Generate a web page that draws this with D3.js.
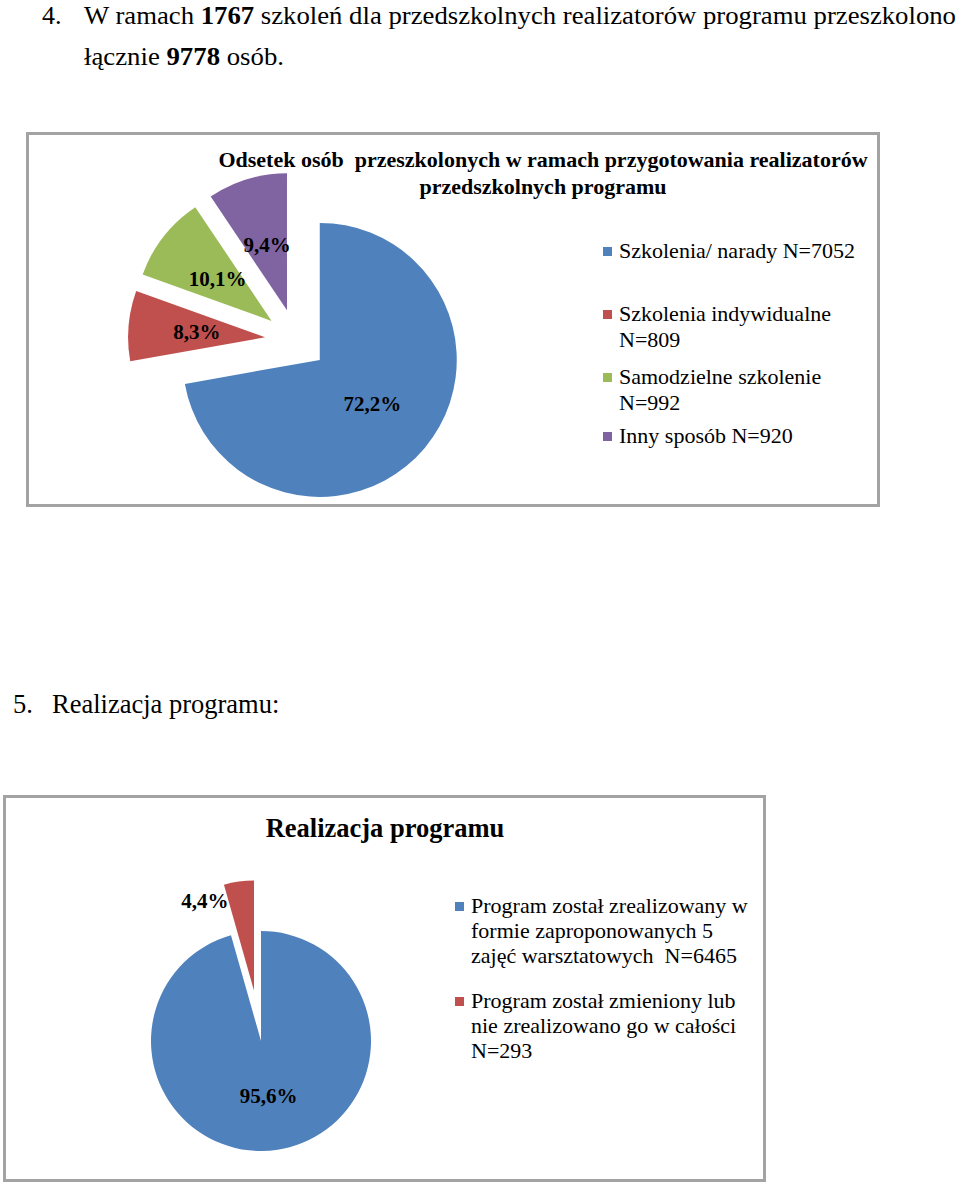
<!DOCTYPE html>
<html><head><meta charset="utf-8">
<script src="https://cdn.jsdelivr.net/npm/d3@7"></script>
<style>
body{margin:0;background:#fff}
svg{display:block}
text{font-family:"Liberation Serif","Times New Roman",serif;white-space:pre;fill:#000}
</style>
</head><body>
<svg id="c" width="960" height="1183"></svg>
<script>
// ---------- data ----------
const chart1Title = ["Odsetek osób  przeszkolonych w ramach przygotowania realizatorów", "przedszkolnych programu"];
const chart1Categories = ["Szkolenia/ narady N=7052", "Szkolenia indywidualne N=809", "Samodzielne szkolenie N=992", "Inny sposób N=920"];
const chart1LegendLines = [["Szkolenia/ narady N=7052"], ["Szkolenia indywidualne", "N=809"], ["Samodzielne szkolenie", "N=992"], ["Inny sposób N=920"]];
const chart1Values = [72.2, 8.3, 10.1, 9.4];

const chart2Title = "Realizacja programu";
const chart2Categories = ["Program został zrealizowany w formie zaproponowanych 5 zajęć warsztatowych N=6465", "Program został zmieniony lub nie zrealizowano go w całości N=293"];
const chart2LegendLines = [["Program został zrealizowany w", "formie zaproponowanych 5", "zajęć warsztatowych  N=6465"], ["Program został zmieniony lub", "nie zrealizowano go w całości", "N=293"]];
const chart2Values = [95.6, 4.4];

const colors = ["#4f81bd", "#c0504d", "#9bbb59", "#8064a2"];

// ---------- helpers ----------
const svg = d3.select("#c");
const fmt = v => d3.format(".1f")(v).replace(".", ",") + "%";

function drawPie(g, values, r, explode) {
  const arcs = d3.pie().sort(null).value(d => d)(values);
  const arc = d3.arc().innerRadius(0).outerRadius(r);
  return arcs.map((a, i) => {
    const mid = (a.startAngle + a.endAngle) / 2;
    const dx = Math.sin(mid) * explode[i], dy = -Math.cos(mid) * explode[i];
    g.append("path").attr("d", arc(a)).attr("transform", `translate(${dx},${dy})`).attr("fill", colors[i]);
    return {a, mid, dx, dy};
  });
}

function drawLegend(g, lines, lineH, itemY, fs) {
  lines.forEach((ls, i) => {
    const y0 = itemY[i];
    g.append("rect").attr("x", 0).attr("y", y0 - fs * 0.5).attr("width", 9).attr("height", 9).attr("fill", colors[i]);
    ls.forEach((t, j) => {
      g.append("text").attr("x", 16).attr("y", y0 + j * lineH).attr("font-size", fs).text(t);
    });
  });
}

// ---------- document text ----------
svg.append("text").attr("x", 42).attr("y", 24).attr("font-size", 26).text("4.");
const l1 = svg.append("text").attr("x", 84).attr("y", 24).attr("font-size", 26)
  .attr("textLength", 872).attr("lengthAdjust", "spacingAndGlyphs");
l1.append("tspan").text("W ramach ");
l1.append("tspan").attr("font-weight", "bold").text("1767");
l1.append("tspan").text(" szkoleń dla przedszkolnych realizatorów programu przeszkolono");
const l2 = svg.append("text").attr("x", 84).attr("y", 65).attr("font-size", 26)
  .attr("textLength", 200).attr("lengthAdjust", "spacingAndGlyphs");
l2.append("tspan").text("łącznie ");
l2.append("tspan").attr("font-weight", "bold").text("9778");
l2.append("tspan").text(" osób.");

svg.append("text").attr("x", 13).attr("y", 713).attr("font-size", 26.5).text("5.");
svg.append("text").attr("x", 52).attr("y", 713).attr("font-size", 26.5).text("Realizacja programu:");

// ---------- chart 1 ----------
svg.append("rect").attr("x", 27.5).attr("y", 133.5).attr("width", 851).attr("height", 372)
  .attr("fill", "#fff").attr("stroke", "#a3a3a3").attr("stroke-width", 3);
chart1Title.forEach((t, i) => {
  svg.append("text").attr("x", 543).attr("y", 167 + i * 27).attr("text-anchor", "middle")
    .attr("font-size", 22).attr("font-weight", "bold").text(t);
});
const r1 = 137;
const g1 = svg.append("g").attr("transform", "translate(296,340)");
const s1 = drawPie(g1, chart1Values, r1, chart1Values.map(() => 31));
s1.forEach((s, i) => {
  g1.append("text")
    .attr("x", s.dx + Math.sin(s.mid) * r1 * 0.5)
    .attr("y", s.dy - Math.cos(s.mid) * r1 * 0.5)
    .attr("dy", "0.35em").attr("text-anchor", "middle")
    .attr("font-size", 21).attr("font-weight", "bold").text(fmt(chart1Values[i]));
});
drawLegend(svg.append("g").attr("transform", "translate(603,0)"), chart1LegendLines, 26, [258, 321, 384, 443], 22);

// ---------- chart 2 ----------
svg.append("rect").attr("x", 4.5).attr("y", 796.5).attr("width", 760).attr("height", 384)
  .attr("fill", "#fff").attr("stroke", "#a3a3a3").attr("stroke-width", 3);
svg.append("text").attr("x", 385).attr("y", 837).attr("text-anchor", "middle")
  .attr("font-size", 26.5).attr("font-weight", "bold").text(chart2Title);
const r2 = 110;
const g2 = svg.append("g").attr("transform", "translate(261,1041)");
const s2 = drawPie(g2, chart2Values, r2, [0, 51]);
// large slice label inside
g2.append("text")
  .attr("x", s2[0].dx + Math.sin(s2[0].mid) * r2 * 0.5)
  .attr("y", s2[0].dy - Math.cos(s2[0].mid) * r2 * 0.5)
  .attr("dy", "0.35em").attr("text-anchor", "middle")
  .attr("font-size", 21).attr("font-weight", "bold").text(fmt(chart2Values[0]));
// small slice label outside, left of the slice
g2.append("text")
  .attr("x", s2[1].dx + Math.sin(s2[1].a.startAngle) * r2 * 0.85)
  .attr("y", s2[1].dy - Math.cos(s2[1].a.startAngle) * r2 * 0.85)
  .attr("dy", "0.35em").attr("text-anchor", "end")
  .attr("font-size", 21).attr("font-weight", "bold").text(fmt(chart2Values[1]));
drawLegend(svg.append("g").attr("transform", "translate(455,0)"), chart2LegendLines, 25, [913, 1008], 22);
</script>
</body></html>
